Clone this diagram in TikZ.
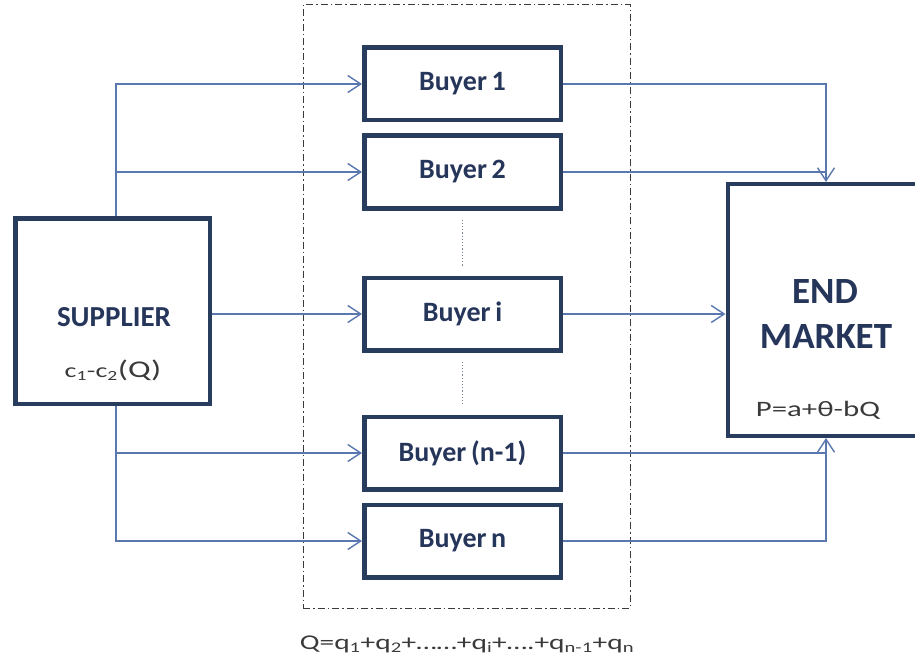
\documentclass[tikz,border=0pt]{standalone}
\usepackage{fontspec}
\setmainfont{Carlito}
\newfontfamily\formfont[FakeStretch=1.4]{Carlito}
\usetikzlibrary{arrows.meta,shadows}

\definecolor{boxedge}{HTML}{283C5E}
\definecolor{labelblue}{HTML}{26365A}
\definecolor{wire}{HTML}{5A78AF}
\definecolor{framegray}{HTML}{3A3A3A}
\definecolor{formgray}{HTML}{3A3A3A}
\definecolor{dotgray}{HTML}{7D879C}

\begin{document}
\begin{tikzpicture}[x=1pt,y=-1pt,
  agent/.style={draw=boxedge, line width=4.5pt, fill=white, inner sep=0pt,
    drop shadow={shadow xshift=2pt, shadow yshift=-2pt, opacity=0.3}},
  buyerbox/.style={agent, minimum width=196.5pt, minimum height=72.5pt,
    font=\bfseries\fontsize{28}{32}\selectfont, text=labelblue},
  bigbox/.style={agent, minimum width=194.5pt},
  title/.style={font=\bfseries\fontsize{29}{33}\selectfont, text=labelblue, inner sep=0pt},
  bigtitle/.style={font=\bfseries\fontsize{37}{42}\selectfont, text=labelblue, inner sep=0pt},
  formula/.style={font=\formfont\fontsize{21}{25}\selectfont, text=formgray, inner sep=0pt},
  wire/.style={draw=wire, line width=1.4pt},
  tip/.style={-{Straight Barb[length=13pt,width=17pt,line width=1.4pt]}},
  dotline/.style={draw=dotgray, line width=1.2pt, dotted, shorten <=9pt, shorten >=9pt},
  groupframe/.style={draw=framegray, line width=1pt,
    dash pattern=on 7pt off 3pt on 1.5pt off 3pt, inner sep=0pt}
]
\useasboundingbox (0,0) rectangle (915,663);
\fill[white] (0,0) rectangle (915,663);

% group of buyers
\node[groupframe, minimum width=327pt, minimum height=603pt] (grp) at (466.5,306.5) {};

% supplier and end market
\node[bigbox, minimum height=185.5pt] (sup) at (112.5,311) {};
\node[title] (suptxt) at (114,317) {SUPPLIER};
\node[formula] (supcost) at (113,370) {\fontsize{20}{24}\selectfont c\textsubscript{1}-c\textsubscript{2}{\fontsize{24}{28}\selectfont(Q)}};

\node[bigbox, minimum height=251.5pt] (mkt) at (825,310) {};
\node[bigtitle] (mkt1) at (825,292) {END};
\node[bigtitle] (mkt2) at (826,337) {MARKET};
\node[formula, font=\formfont\fontsize{22}{26}\selectfont] (price) at (818,410) {P=a+θ-bQ};

% buyers
\node[buyerbox] (b1) at (462.5,84) {Buyer\,1};
\node[buyerbox] (b2) at (462.5,172) {Buyer\,2};
\node[buyerbox] (bi) at (462.5,314) {Buyer\,i};
\node[buyerbox] (bn1) at (462.5,453) {Buyer\,(n-1)};
\node[buyerbox] (bn) at (462.5,541) {Buyer\,n};

% elided buyers
\draw[dotline] (b2.south) -- (bi.north);
\draw[dotline] (bi.south) -- (bn1.north);

% trunk lines
\coordinate (lx) at (116,0);
\coordinate (rx) at (826,0);

% supplier to buyers
\draw[wire,tip] (sup.north -| lx) |- (b1.west);
\draw[wire,tip] (lx |- b2.west) -- (b2.west);
\draw[wire,tip] (sup.east |- bi.west) -- (bi.west);
\draw[wire,tip] (sup.south -| lx) |- (bn.west);
\draw[wire,tip] (lx |- bn1.west) -- (bn1.west);

% buyers to end market
\draw[wire,tip] (b1.east) -| (rx |- mkt.north);
\draw[wire] (b2.east) -- (rx |- b2.east);
\draw[wire,tip] (bi.east) -- (mkt.west |- bi.east);
\draw[wire,tip] (bn.east) -| (rx |- mkt.south);
\draw[wire] (bn1.east) -- (rx |- bn1.east);

% total quantity
\node[formula] (total) at (467,644) {Q=q\textsubscript{1}+q\textsubscript{2}+……+q\textsubscript{i}+….+q\textsubscript{n-1}+q\textsubscript{n}};
\end{tikzpicture}
\end{document}
